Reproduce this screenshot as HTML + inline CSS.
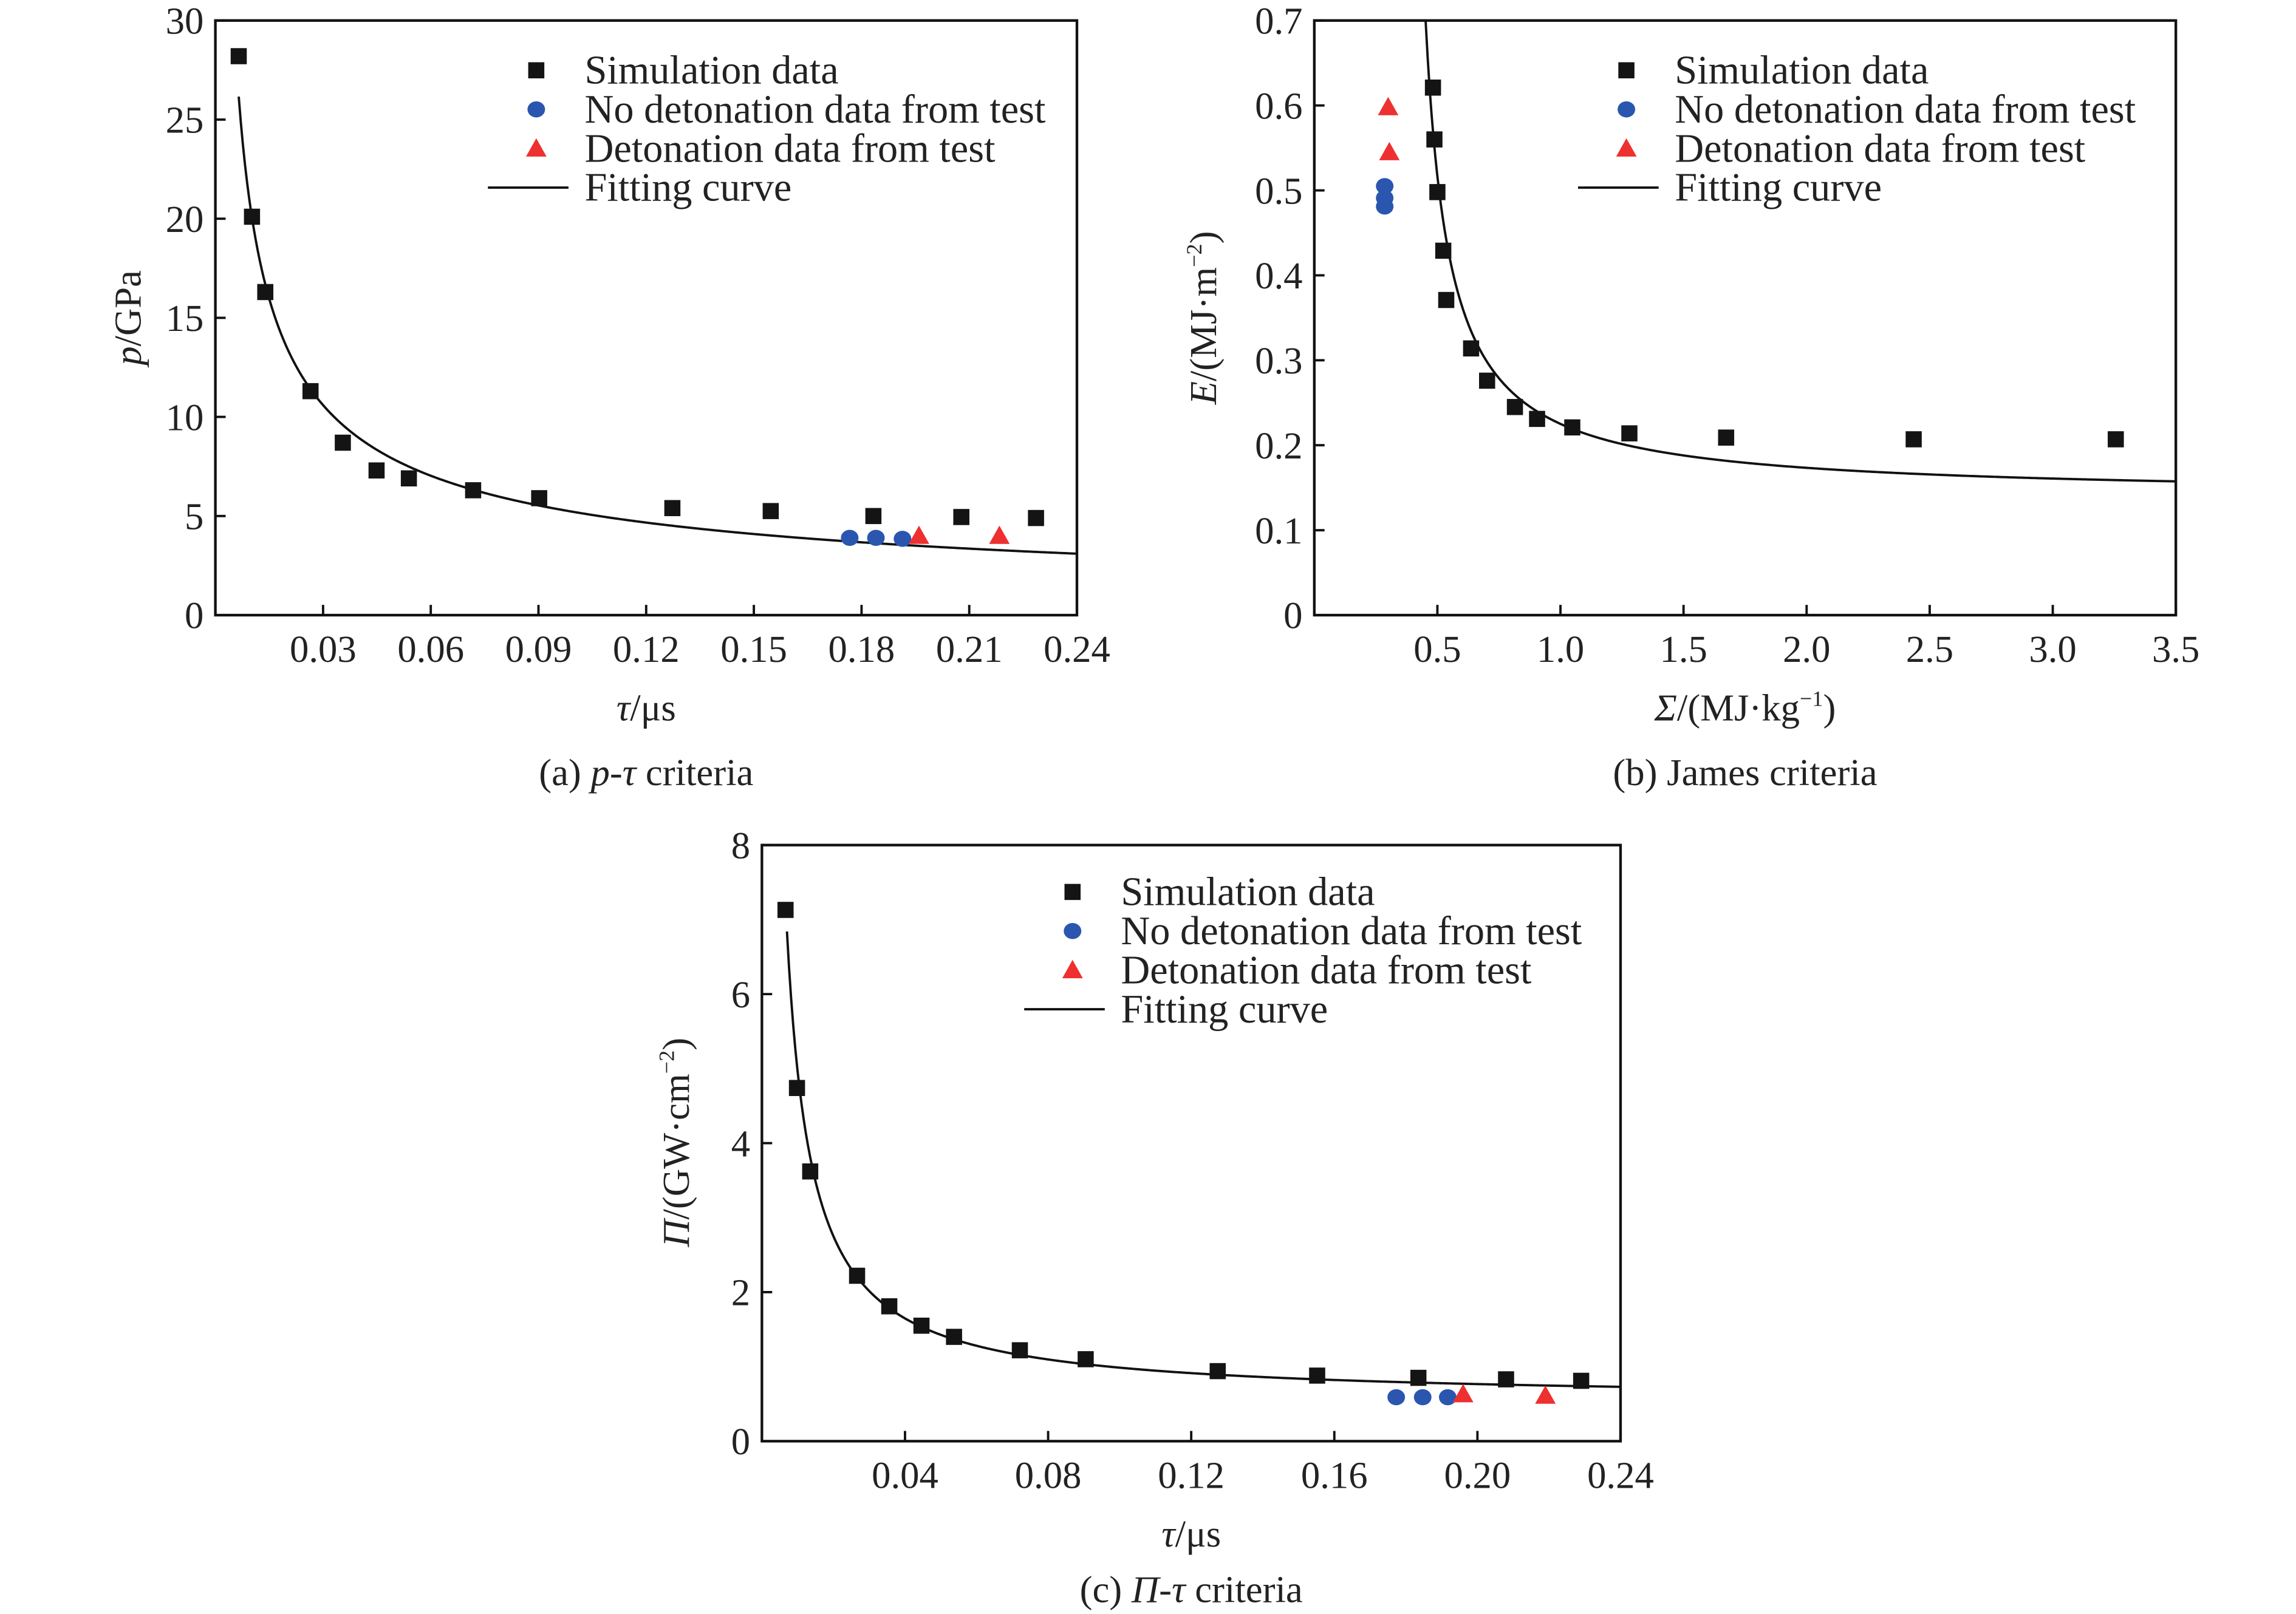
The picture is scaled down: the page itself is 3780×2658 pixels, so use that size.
<!DOCTYPE html>
<html><head><meta charset="utf-8">
<style>
html,body{margin:0;padding:0;background:#fff;}
svg{display:block;}
svg text{font-family:"Liberation Serif","DejaVu Serif",serif;fill:#222;}
</style></head>
<body>
<svg id="fig" width="3780" height="2658" viewBox="0 0 1567 1102" preserveAspectRatio="none" font-family="Liberation Serif, DejaVu Serif, serif" xmlns="http://www.w3.org/2000/svg"></svg>
<script>
// ---- Panel (a) data ----
const aSimX = [0.0065,0.0102,0.0139,0.0265,0.0355,0.0449,0.0539,0.0718,0.0902,0.1273,0.1547,0.1833,0.2078,0.2286];
const aSimY = [28.2,20.1,16.3,11.3,8.7,7.3,6.9,6.3,5.9,5.4,5.25,5.0,4.95,4.9];
const aNoX = [0.1767,0.184,0.1914];
const aNoY = [3.9,3.9,3.85];
const aDetX = [0.196,0.2184];
const aDetY = [4.0,4.0];
const aFit = [3.1,0.24,0.591]; // p = c*(tau/t0)^-n
const aXTicks = [0.03,0.06,0.09,0.12,0.15,0.18,0.21,0.24];
const aXLabels = ["0.03","0.06","0.09","0.12","0.15","0.18","0.21","0.24"];
const aYTicks = [0,5,10,15,20,25,30];
const aYLabels = ["0","5","10","15","20","25","30"];
// ---- Panel (b) data ----
const bSimX = [0.482,0.488,0.5,0.524,0.536,0.637,0.702,0.815,0.905,1.048,1.28,1.673,2.435,3.256];
const bSimY = [0.621,0.56,0.498,0.429,0.371,0.314,0.276,0.245,0.231,0.221,0.214,0.209,0.207,0.207];
const bNoX = [0.286,0.286,0.286];
const bNoY = [0.505,0.491,0.481];
const bDetX = [0.3,0.305];
const bDetY = [0.598,0.545];
const bFit = [0.14,0.354,0.055]; // E = E0 + k/(S - S0)
const bXTicks = [0.5,1.0,1.5,2.0,2.5,3.0,3.5];
const bXLabels = ["0.5","1.0","1.5","2.0","2.5","3.0","3.5"];
const bYTicks = [0,0.1,0.2,0.3,0.4,0.5,0.6,0.7];
const bYLabels = ["0","0.1","0.2","0.3","0.4","0.5","0.6","0.7"];
// ---- Panel (c) data ----
const cSimX = [0.0066,0.0098,0.0135,0.0266,0.0356,0.0446,0.0537,0.0721,0.0905,0.1274,0.1552,0.1835,0.208,0.229];
const cSimY = [7.13,4.74,3.62,2.22,1.81,1.55,1.40,1.22,1.10,0.94,0.88,0.85,0.83,0.81];
const cNoX = [0.1773,0.1847,0.1917];
const cNoY = [0.59,0.59,0.59];
const cDetX = [0.196,0.219];
const cDetY = [0.63,0.61];
const cFit = [0.546,0.04406]; // Pi = A + B/tau
const cXTicks = [0.04,0.08,0.12,0.16,0.20,0.24];
const cXLabels = ["0.04","0.08","0.12","0.16","0.20","0.24"];
const cYTicks = [0,2,4,6,8];
const cYLabels = ["0","2","4","6","8"];

const NS = "http://www.w3.org/2000/svg";
const svg = document.getElementById('fig');
const FONT = '"Liberation Serif","DejaVu Serif",serif';
function mk(tag, attrs, parent){
  const e = document.createElementNS(NS, tag);
  for (const k in attrs) e.setAttribute(k, attrs[k]);
  if (tag === 'text') e.style.fontFamily = FONT;
  (parent||svg).appendChild(e);
  return e;
}
function square(g,x,y){ const e=mk('rect',{x:x-5.5,y:y-5.5,width:11,height:11,fill:'#141414'},g);
  
   }
function circle(g,x,y){ const e=mk('ellipse',{cx:x,cy:y,rx:6,ry:5.5,fill:'#2a56b0'},g);
  
   }
function tri(g,x,y){ const e=mk('polygon',{points:`${x-7},${y+5.5} ${x+7},${y+5.5} ${x},${y-7}`,fill:'#ee3030'},g);
  
   }

function panel(o){
  const g = mk('g',{});
  
  
  const sx = v => o.L + (v - o.x0)/(o.x1 - o.x0)*(o.R - o.L);
  const sy = v => o.B - (v - o.y0)/(o.y1 - o.y0)*(o.B - o.T);
  const cid = o.name+'-clip';
  const cp = mk('clipPath',{id:cid},g);
  mk('rect',{x:o.L,y:o.T,width:o.R-o.L,height:o.B-o.T},cp);
  let d='';
  const n=400;
  for(let i=0;i<=n;i++){
    const xv = o.fxs + (o.fxe - o.fxs)*i/n;
    const yv = o.f(xv);
    if(!isFinite(yv)) continue;
    d += (d?'L':'M') + sx(xv).toFixed(2)+','+Math.max(o.T-50,sy(yv)).toFixed(2);
  }
  const c = mk('path',{d:d,fill:'none',stroke:'#111','stroke-width':1.6,'clip-path':`url(#${cid})`},g);
  
  
  const fr = mk('rect',{x:o.L,y:o.T,width:o.R-o.L,height:o.B-o.T,fill:'none',stroke:'#111','stroke-width':1.8},g);
  
  
  o.xt.forEach((v,i)=>{
    const X=sx(v);
    mk('line',{x1:X,y1:o.B,x2:X,y2:o.B-7,stroke:'#111','stroke-width':1.6},g);
    const t=mk('text',{x:X,y:o.B+32,'font-size':26,'text-anchor':'middle'},g);
    t.textContent=o.xl[i];
    
    
  });
  o.yt.forEach((v,i)=>{
    const Y=sy(v);
    mk('line',{x1:o.L,y1:Y,x2:o.L+7,y2:Y,stroke:'#111','stroke-width':1.6},g);
    const t=mk('text',{x:o.L-8,y:Y+9,'font-size':26,'text-anchor':'end'},g);
    t.textContent=o.yl[i];
    
    
  });
  o.sx.forEach((v,i)=>square(g,sx(v),sy(o.sy[i])));
  o.nx.forEach((v,i)=>circle(g,sx(v),sy(o.ny[i])));
  o.dx.forEach((v,i)=>tri(g,sx(v),sy(o.dy[i])));
  const lg = mk('g',{},g);
  
  
  const lx=o.legX, ly=o.legY, dy=26.7;
  square(lg,lx,ly); circle(lg,lx,ly+dy); tri(lg,lx,ly+2*dy);
  mk('line',{x1:lx-33,y1:ly+3*dy,x2:lx+22,y2:ly+3*dy,stroke:'#111','stroke-width':1.6},lg);
  ["Simulation data","No detonation data from test","Detonation data from test","Fitting curve"].forEach((s,i)=>{
    const t=mk('text',{x:lx+33,y:ly+i*dy+9,'font-size':27.5},lg);
    t.textContent=s;
    
    
  });
  const xt=mk('text',{x:(o.L+o.R)/2,y:o.B+72,'font-size':26,'text-anchor':'middle'},g);
  xt.innerHTML=o.xTitle;
  
  
  const yt=mk('text',{x:0,y:0,'font-size':26,'text-anchor':'middle',transform:`translate(${o.yTx},${o.yTy}) rotate(-90)`},g);
  yt.innerHTML=o.yTitle;
  
  
  const cap=mk('text',{x:(o.L+o.R)/2,y:o.capY,'font-size':26,'text-anchor':'middle'},g);
  cap.innerHTML=o.cap;
  
  
}

panel({name:'panel-a',L:147,R:735,T:14,B:420,x0:0,x1:0.24,y0:0,y1:30,
  f:v=>aFit[0]*Math.pow(v/aFit[1],-aFit[2]),fxs:0.0065,fxe:0.24,
  xt:aXTicks,xl:aXLabels,yt:aYTicks,yl:aYLabels,
  sx:aSimX,sy:aSimY,nx:aNoX,ny:aNoY,dx:aDetX,dy:aDetY,
  legX:366,legY:48,
  xTitle:'<tspan font-style="italic">τ</tspan>/μs',
  yTitle:'<tspan font-style="italic">p</tspan>/GPa',yTx:96,yTy:217,
  cap:'(a) <tspan font-style="italic">p</tspan>-<tspan font-style="italic">τ</tspan> criteria',capY:536});

panel({name:'panel-b',L:897,R:1485,T:14,B:420,x0:0,x1:3.5,y0:0,y1:0.7,
  f:v=>bFit[0]+bFit[2]/(v-bFit[1]),fxs:0.43,fxe:3.5,
  xt:bXTicks,xl:bXLabels,yt:bYTicks,yl:bYLabels,
  sx:bSimX,sy:bSimY,nx:bNoX,ny:bNoY,dx:bDetX,dy:bDetY,
  legX:1110,legY:48,
  xTitle:'<tspan font-style="italic">Σ</tspan>/(MJ·kg<tspan dy="-10" font-size="15">−1</tspan><tspan dy="10">)</tspan>',
  yTitle:'<tspan font-style="italic">E</tspan>/(MJ·m<tspan dy="-10" font-size="15">−2</tspan><tspan dy="10">)</tspan>',yTx:830,yTy:217,
  cap:'(b) James criteria',capY:536});

panel({name:'panel-c',L:520,R:1106,T:577,B:984,x0:0,x1:0.24,y0:0,y1:8,
  f:v=>cFit[0]+cFit[1]/v,fxs:0.007,fxe:0.24,
  xt:cXTicks,xl:cXLabels,yt:cYTicks,yl:cYLabels,
  sx:cSimX,sy:cSimY,nx:cNoX,ny:cNoY,dx:cDetX,dy:cDetY,
  legX:732,legY:609,
  xTitle:'<tspan font-style="italic">τ</tspan>/μs',
  yTitle:'<tspan font-style="italic">Π</tspan>/(GW·cm<tspan dy="-10" font-size="15">−2</tspan><tspan dy="10">)</tspan>',yTx:470,yTy:780,
  cap:'(c) <tspan font-style="italic">Π</tspan>-<tspan font-style="italic">τ</tspan> criteria',capY:1094});
</script>
</body></html>
